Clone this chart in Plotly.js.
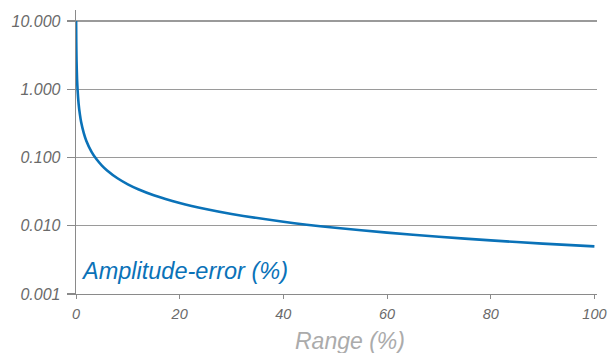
<!DOCTYPE html>
<html>
<head>
<meta charset="utf-8">
<script src="https://cdn.plot.ly/plotly-3.0.1.min.js"></script>
<style>html,body{margin:0;padding:0;background:#fff;}#chart{width:614px;height:353px;}</style>
</head>
<body>
<div id="chart"></div>
<script>
const rangePct = [0.024, 0.05, 0.1, 0.2, 0.3, 0.5, 0.75, 1, 1.5, 2, 3, 4, 5, 6, 8, 10, 12, 15, 20, 25, 30, 40, 50, 60, 70, 80, 90, 100];
const amplitudeError = [10, 5.02, 2.68, 1.424, 0.985, 0.618, 0.428, 0.329, 0.228, 0.175, 0.121, 0.0932, 0.0761, 0.0645, 0.0496, 0.0405, 0.0343, 0.0280, 0.0216, 0.0176, 0.0149, 0.01147, 0.00936, 0.00793, 0.00689, 0.00610, 0.00548, 0.00498];
const yTickVals = [0.001, 0.01, 0.1, 1, 10];
const yTickText = ['0.001', '0.010', '0.100', '1.000', '10.000'];
const xTickVals = [0, 20, 40, 60, 80, 100];
const xTickText = ['0', '20', '40', '60', '80', '100'];
const seriesLabel = 'Amplitude-error (%)';
const xTitle = 'Range (%)';

const FONT = 'Liberation Sans, Arial, sans-serif';

Plotly.newPlot('chart', [{
  x: rangePct,
  y: amplitudeError,
  type: 'scatter',
  mode: 'lines',
  line: {color: '#0a72b8', width: 2.6, shape: 'spline', smoothing: 0.6},
  hoverinfo: 'skip',
  showlegend: false
}], {
  width: 614,
  height: 353,
  margin: {l: 76, r: 17, t: 10, b: 59},
  paper_bgcolor: '#fff',
  plot_bgcolor: '#fff',
  font: {family: FONT},
  xaxis: {
    range: [0, 100.5],
    tickvals: xTickVals,
    ticktext: xTickText,
    showgrid: false,
    zeroline: false,
    showline: true,
    linecolor: '#8a8a8a',
    linewidth: 1.3,
    ticks: 'outside',
    ticklen: 4,
    tickwidth: 1,
    tickcolor: '#8a8a8a',
    ticklabelstandoff: 2,
    tickfont: {family: FONT, size: 14.5, color: '#6a6a6a', style: 'italic'},
    fixedrange: true
  },
  yaxis: {
    type: 'log',
    range: [-3, 1.161],
    tickvals: yTickVals,
    ticktext: yTickText,
    showgrid: true,
    gridcolor: '#9a9a9a',
    gridwidth: 1.3,
    zeroline: false,
    showline: true,
    linecolor: '#8a8a8a',
    linewidth: 1.3,
    ticks: 'outside',
    ticklen: 8,
    tickwidth: 1.3,
    tickcolor: '#8a8a8a',
    ticklabelstandoff: 3,
    tickfont: {family: FONT, size: 16, color: '#6a6a6a', style: 'italic'},
    fixedrange: true
  },
  annotations: [
    {
      text: seriesLabel,
      xref: 'paper', yref: 'paper',
      x: 0.005, y: 0.08,
      xanchor: 'left', yanchor: 'middle',
      showarrow: false,
      font: {family: FONT, size: 23.5, color: '#0a72b8', style: 'italic'}
    },
    {
      text: xTitle,
      xref: 'paper', yref: 'paper',
      x: 0.525, y: -0.165,
      xanchor: 'center', yanchor: 'middle',
      showarrow: false,
      font: {family: FONT, size: 23, color: '#ababab', style: 'italic'}
    }
  ]
}, {displayModeBar: false, staticPlot: true});
</script>
</body>
</html>
